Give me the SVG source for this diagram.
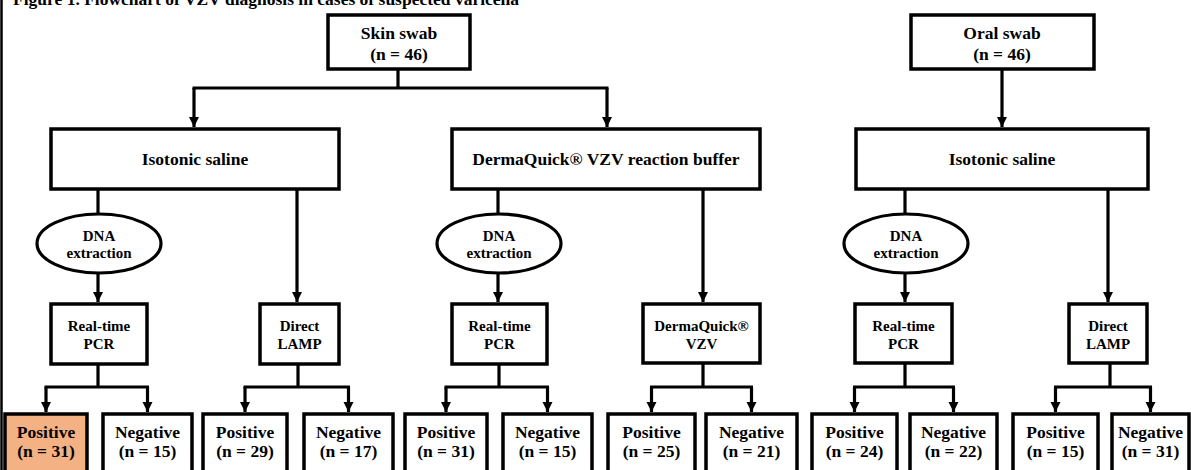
<svg xmlns="http://www.w3.org/2000/svg" width="1191" height="470" viewBox="0 0 1191 470">
<style>
.box{fill:#fff;stroke:#000;stroke-width:3.5}
.pos{fill:#F4B183;stroke:#000;stroke-width:3.5}
.ell{fill:#fff;stroke:#000;stroke-width:3.2}
.t{font-family:"Liberation Serif","Times New Roman",serif;font-weight:bold;font-size:17.5px;fill:#000;text-anchor:middle}
.s{font-size:15px}
.c path{fill:none;stroke:#000;stroke-width:3.2}
.c .a{marker-end:url(#arr)}
</style>
<defs>
<marker id="arr" markerUnits="userSpaceOnUse" markerWidth="10" markerHeight="11" refX="10" refY="5" orient="auto" viewBox="0 0 10 10">
<path d="M0,0 L10,5 L0,10 z" fill="#000"/>
</marker>
</defs>
<rect x="0" y="0" width="1191" height="470" fill="#fff"/>
<line x1="1.5" y1="0" x2="1.5" y2="470" stroke="#000" stroke-width="2.5"/>
<text x="13" y="4.5" class="t" style="text-anchor:start">Figure 1. Flowchart of VZV diagnosis in cases of suspected varicella</text>

<g class="c" id="connectors">
<path d="M398,69 V88 M192.5,88 H608.5"/>
<path class="a" d="M194,88 V127"/>
<path class="a" d="M607,88 V127"/>
<path class="a" d="M1002,69 V127"/>
<path d="M98,189 V214"/>
<path class="a" d="M98,273 V302"/>
<path class="a" d="M297,189 V302"/>
<path d="M498,189 V214"/>
<path class="a" d="M498,273 V302"/>
<path class="a" d="M703,189 V302"/>
<path d="M905,189 V214"/>
<path class="a" d="M905,273 V302"/>
<path class="a" d="M1108,189 V302"/>
<path d="M98,364 V387 M44.5,387 H149"/>
<path class="a" d="M46,387 V412"/>
<path class="a" d="M147.5,387 V412"/>
<path d="M298,364 V387 M243.5,387 H350"/>
<path class="a" d="M245,387 V412"/>
<path class="a" d="M348.5,387 V412"/>
<path d="M499,364 V387 M444.5,387 H549"/>
<path class="a" d="M446,387 V412"/>
<path class="a" d="M547.5,387 V412"/>
<path d="M703,363 V387 M650,387 H753"/>
<path class="a" d="M651.5,387 V412"/>
<path class="a" d="M751.5,387 V412"/>
<path d="M905,363 V387 M853,387 H955"/>
<path class="a" d="M854.5,387 V412"/>
<path class="a" d="M953.5,387 V412"/>
<path d="M1110,363 V387 M1054,387 H1152"/>
<path class="a" d="M1055.5,387 V412"/>
<path class="a" d="M1150.5,387 V412"/>
</g>

<g id="skin"><rect class="box" x="328" y="15" width="142" height="54"/><text class="t" x="399" y="39">Skin swab</text><text class="t" x="399" y="60">(n = 46)</text></g>
<g id="oral"><rect class="box" x="911" y="15" width="183" height="54"/><text class="t" x="1002" y="39">Oral swab</text><text class="t" x="1002" y="60">(n = 46)</text></g>

<g id="iso1"><rect class="box" x="51" y="129" width="288" height="60"/><text class="t" x="195" y="165">Isotonic saline</text></g>
<g id="dq"><rect class="box" x="452" y="129" width="308" height="60"/><text class="t" x="606" y="165">DermaQuick® VZV reaction buffer</text></g>
<g id="iso2"><rect class="box" x="856" y="129" width="292" height="60"/><text class="t" x="1002" y="165">Isotonic saline</text></g>

<g id="dna1"><ellipse class="ell" cx="99" cy="243.5" rx="62" ry="29.5"/><text class="t s" x="99" y="240.5">DNA</text><text class="t s" x="99" y="257.5">extraction</text></g>
<g id="dna2"><ellipse class="ell" cx="499" cy="243.5" rx="62" ry="29.5"/><text class="t s" x="499" y="240.5">DNA</text><text class="t s" x="499" y="257.5">extraction</text></g>
<g id="dna3"><ellipse class="ell" cx="906" cy="243.5" rx="62" ry="29.5"/><text class="t s" x="906" y="240.5">DNA</text><text class="t s" x="906" y="257.5">extraction</text></g>

<g id="pcr1"><rect class="box" x="51" y="304" width="96" height="60"/><text class="t s" x="99" y="331">Real-time</text><text class="t s" x="99" y="348.5">PCR</text></g>
<g id="lamp1"><rect class="box" x="260" y="304" width="79" height="60"/><text class="t s" x="299.5" y="331">Direct</text><text class="t s" x="299.5" y="348.5">LAMP</text></g>
<g id="pcr2"><rect class="box" x="452" y="304" width="95" height="60"/><text class="t s" x="499.5" y="331">Real-time</text><text class="t s" x="499.5" y="348.5">PCR</text></g>
<g id="dqvzv"><rect class="box" x="643" y="304" width="117" height="59"/><text class="t s" x="701.5" y="331">DermaQuick®</text><text class="t s" x="701.5" y="348.5">VZV</text></g>
<g id="pcr3"><rect class="box" x="855" y="304" width="97" height="59"/><text class="t s" x="903.5" y="331">Real-time</text><text class="t s" x="903.5" y="348.5">PCR</text></g>
<g id="lamp2"><rect class="box" x="1069" y="304" width="78" height="59"/><text class="t s" x="1108" y="331">Direct</text><text class="t s" x="1108" y="348.5">LAMP</text></g>

<g id="r1"><rect class="pos" x="5" y="414" width="82" height="66"/><text class="t" x="46" y="438">Positive</text><text class="t" x="46" y="457">(n = 31)</text></g>
<g id="r2"><rect class="box" x="103" y="414" width="89" height="66"/><text class="t" x="147.5" y="438">Negative</text><text class="t" x="147.5" y="457">(n = 15)</text></g>
<g id="r3"><rect class="box" x="203" y="414" width="84" height="66"/><text class="t" x="245" y="438">Positive</text><text class="t" x="245" y="457">(n = 29)</text></g>
<g id="r4"><rect class="box" x="304" y="414" width="89" height="66"/><text class="t" x="348.5" y="438">Negative</text><text class="t" x="348.5" y="457">(n = 17)</text></g>
<g id="r5"><rect class="box" x="405" y="414" width="82" height="66"/><text class="t" x="446" y="438">Positive</text><text class="t" x="446" y="457">(n = 31)</text></g>
<g id="r6"><rect class="box" x="503" y="414" width="89" height="66"/><text class="t" x="547.5" y="438">Negative</text><text class="t" x="547.5" y="457">(n = 15)</text></g>
<g id="r7"><rect class="box" x="608" y="414" width="87" height="66"/><text class="t" x="651.5" y="438">Positive</text><text class="t" x="651.5" y="457">(n = 25)</text></g>
<g id="r8"><rect class="box" x="706" y="414" width="91" height="66"/><text class="t" x="751.5" y="438">Negative</text><text class="t" x="751.5" y="457">(n = 21)</text></g>
<g id="r9"><rect class="box" x="812" y="414" width="85" height="66"/><text class="t" x="854.5" y="438">Positive</text><text class="t" x="854.5" y="457">(n = 24)</text></g>
<g id="r10"><rect class="box" x="910" y="414" width="87" height="66"/><text class="t" x="953.5" y="438">Negative</text><text class="t" x="953.5" y="457">(n = 22)</text></g>
<g id="r11"><rect class="box" x="1013" y="414" width="85" height="66"/><text class="t" x="1055.5" y="438">Positive</text><text class="t" x="1055.5" y="457">(n = 15)</text></g>
<g id="r12"><rect class="box" x="1112" y="414" width="77" height="66"/><text class="t" x="1150.5" y="438">Negative</text><text class="t" x="1150.5" y="457">(n = 31)</text></g>
</svg>
